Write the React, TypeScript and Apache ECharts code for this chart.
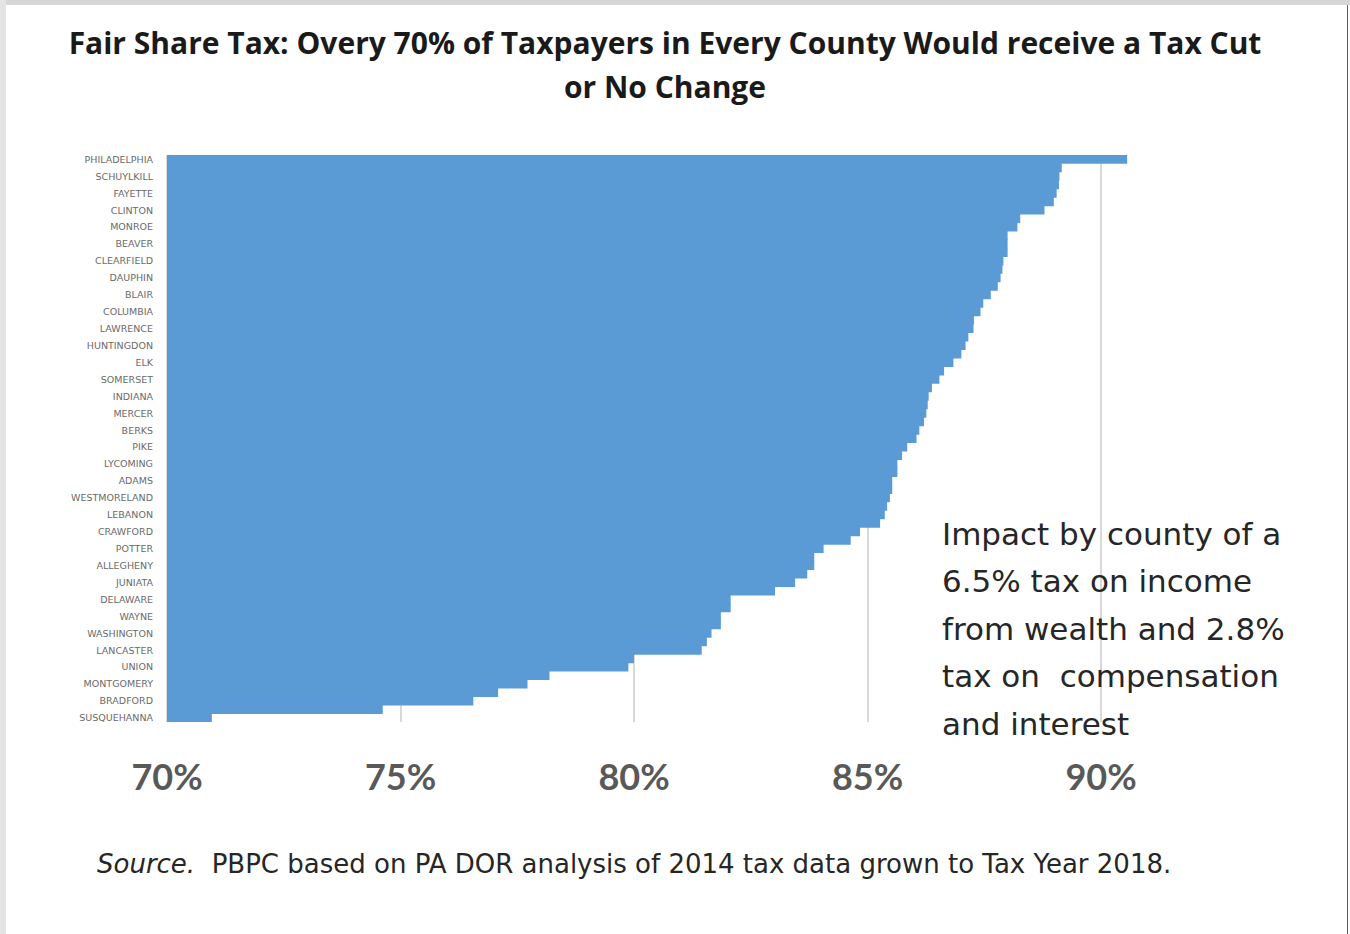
import React, { useEffect, useRef } from "react";
import * as echarts from "echarts";

const counties: string[] = [
  "PHILADELPHIA", "CAMBRIA", "SCHUYLKILL", "NORTHUMBERLAND", "FAYETTE", "CARBON",
  "CLINTON", "LUZERNE", "MONROE", "ERIE", "BEAVER", "LACKAWANNA",
  "CLEARFIELD", "GREENE", "DAUPHIN", "JEFFERSON", "BLAIR", "MIFFLIN",
  "COLUMBIA", "VENANGO", "LAWRENCE", "ARMSTRONG", "HUNTINGDON", "CLARION",
  "ELK", "MCKEAN", "SOMERSET", "WARREN", "INDIANA", "CAMERON",
  "MERCER", "FOREST", "BERKS", "BEDFORD", "PIKE", "FULTON",
  "LYCOMING", "NORTHAMPTON", "ADAMS", "FRANKLIN", "WESTMORELAND", "TIOGA",
  "LEBANON", "SULLIVAN", "CRAWFORD", "BUTLER", "POTTER", "LEHIGH",
  "ALLEGHENY", "PERRY", "JUNIATA", "YORK", "DELAWARE", "SNYDER",
  "WAYNE", "WYOMING", "WASHINGTON", "MONTOUR", "LANCASTER", "CUMBERLAND",
  "UNION", "CENTRE", "MONTGOMERY", "BUCKS", "BRADFORD", "CHESTER",
  "SUSQUEHANNA",
];

const shareCutOrNoChange: number[] = [
  90.56, 89.16, 89.11, 89.1, 89.05, 88.99,
  88.79, 88.27, 88.21, 88.0, 88.0, 88.0,
  87.91, 87.89, 87.85, 87.79, 87.64, 87.48,
  87.42, 87.28, 87.27, 87.16, 87.1, 87.01,
  86.84, 86.64, 86.54, 86.38, 86.31, 86.29,
  86.26, 86.21, 86.11, 86.05, 85.85, 85.74,
  85.64, 85.64, 85.53, 85.53, 85.48, 85.42,
  85.37, 85.27, 84.84, 84.64, 84.06, 83.86,
  83.86, 83.71, 83.45, 83.02, 82.07, 82.07,
  81.86, 81.86, 81.66, 81.56, 81.45, 80.0,
  79.88, 78.19, 77.72, 77.09, 76.56, 74.62,
  70.96,
];

const xMin = 70;
const xMax = 92;
const xInterval = 5;

const titleText =
  "Fair Share Tax: Overy 70% of Taxpayers in Every County Would receive a Tax Cut\nor No Change";
const noteLines: string[] = [
  "Impact by county of a",
  "6.5% tax on income",
  "from wealth and 2.8%",
  "tax on  compensation",
  "and interest",
];
const sourceLabel = "Source.";
const sourceText = "  PBPC based on PA DOR analysis of 2014 tax data grown to Tax Year 2018.";

export default function App() {
  const ref = useRef<HTMLDivElement>(null);

  useEffect(() => {
    if (!ref.current) return;
    const chart = echarts.init(ref.current, null, { renderer: "svg" });
    chart.setOption({
      animation: false,
      backgroundColor: "#ffffff",
      title: {
        text: titleText,
        left: 665,
        top: 20,
        textAlign: "center",
        padding: 0,
        textStyle: {
          fontFamily: "Open Sans",
          fontWeight: "bold",
          fontSize: 30,
          lineHeight: 44,
          color: "#1a1a1a",
        },
      },
      grid: { left: 167, right: 155.6, top: 155, bottom: 212 },
      xAxis: {
        type: "value",
        min: xMin,
        max: xMax,
        interval: xInterval,
        axisLine: { show: false },
        axisTick: { show: false },
        axisLabel: {
          formatter: (v: number) => `${v}%`,
          showMaxLabel: false,
          fontFamily: "Lato",
          fontWeight: "bold",
          fontSize: 36,
          color: "#595959",
          margin: 36,
        },
        splitLine: {
          show: true,
          showMaxLine: false,
          lineStyle: { color: "#d9d9d9", width: 2 },
        },
      },
      yAxis: {
        type: "category",
        data: counties,
        inverse: true,
        axisLine: { show: false },
        axisTick: { show: false },
        axisLabel: {
          interval: 1,
          fontSize: 9.5,
          fontFamily: "DejaVu Sans",
          color: "#6a6a6a",
          margin: 14,
        },
      },
      series: [
        {
          type: "bar",
          data: shareCutOrNoChange,
          barWidth: 9.2,
          itemStyle: { color: "#5b9bd5" },
        },
      ],
      graphic: [
        { type: "rect", shape: { x: 0, y: 0, width: 1350, height: 5 }, style: { fill: "#d6d6d6" }, z: 100 },
        { type: "rect", shape: { x: 0, y: 0, width: 6, height: 934 }, style: { fill: "#e4e4e4" }, z: 100 },
        { type: "rect", shape: { x: 1347, y: 5, width: 1, height: 929 }, style: { fill: "#5a5a5a" }, z: 100 },
        {
          type: "text",
          x: 942,
          y: 510,
          z: 50,
          style: {
            text: noteLines.join("\n"),
            fontFamily: "DejaVu Sans",
            fontSize: 31,
            lineHeight: 47.5,
            fill: "#262626",
            align: "left",
            verticalAlign: "top",
          },
        },
        {
          type: "text",
          x: 97,
          y: 864,
          z: 50,
          style: {
            text: `{i|${sourceLabel}}${sourceText}`,
            fontFamily: "DejaVu Sans",
            fontSize: 26,
            fill: "#262626",
            align: "left",
            verticalAlign: "middle",
            rich: {
              i: { fontStyle: "italic", fontFamily: "DejaVu Sans", fontSize: 26, fill: "#262626" },
            },
          },
        },
      ],
    });
    return () => chart.dispose();
  }, []);

  return (
    <div
      ref={ref}
      style={{ position: "fixed", left: 0, top: 0, width: 1350, height: 934 }}
    />
  );
}
